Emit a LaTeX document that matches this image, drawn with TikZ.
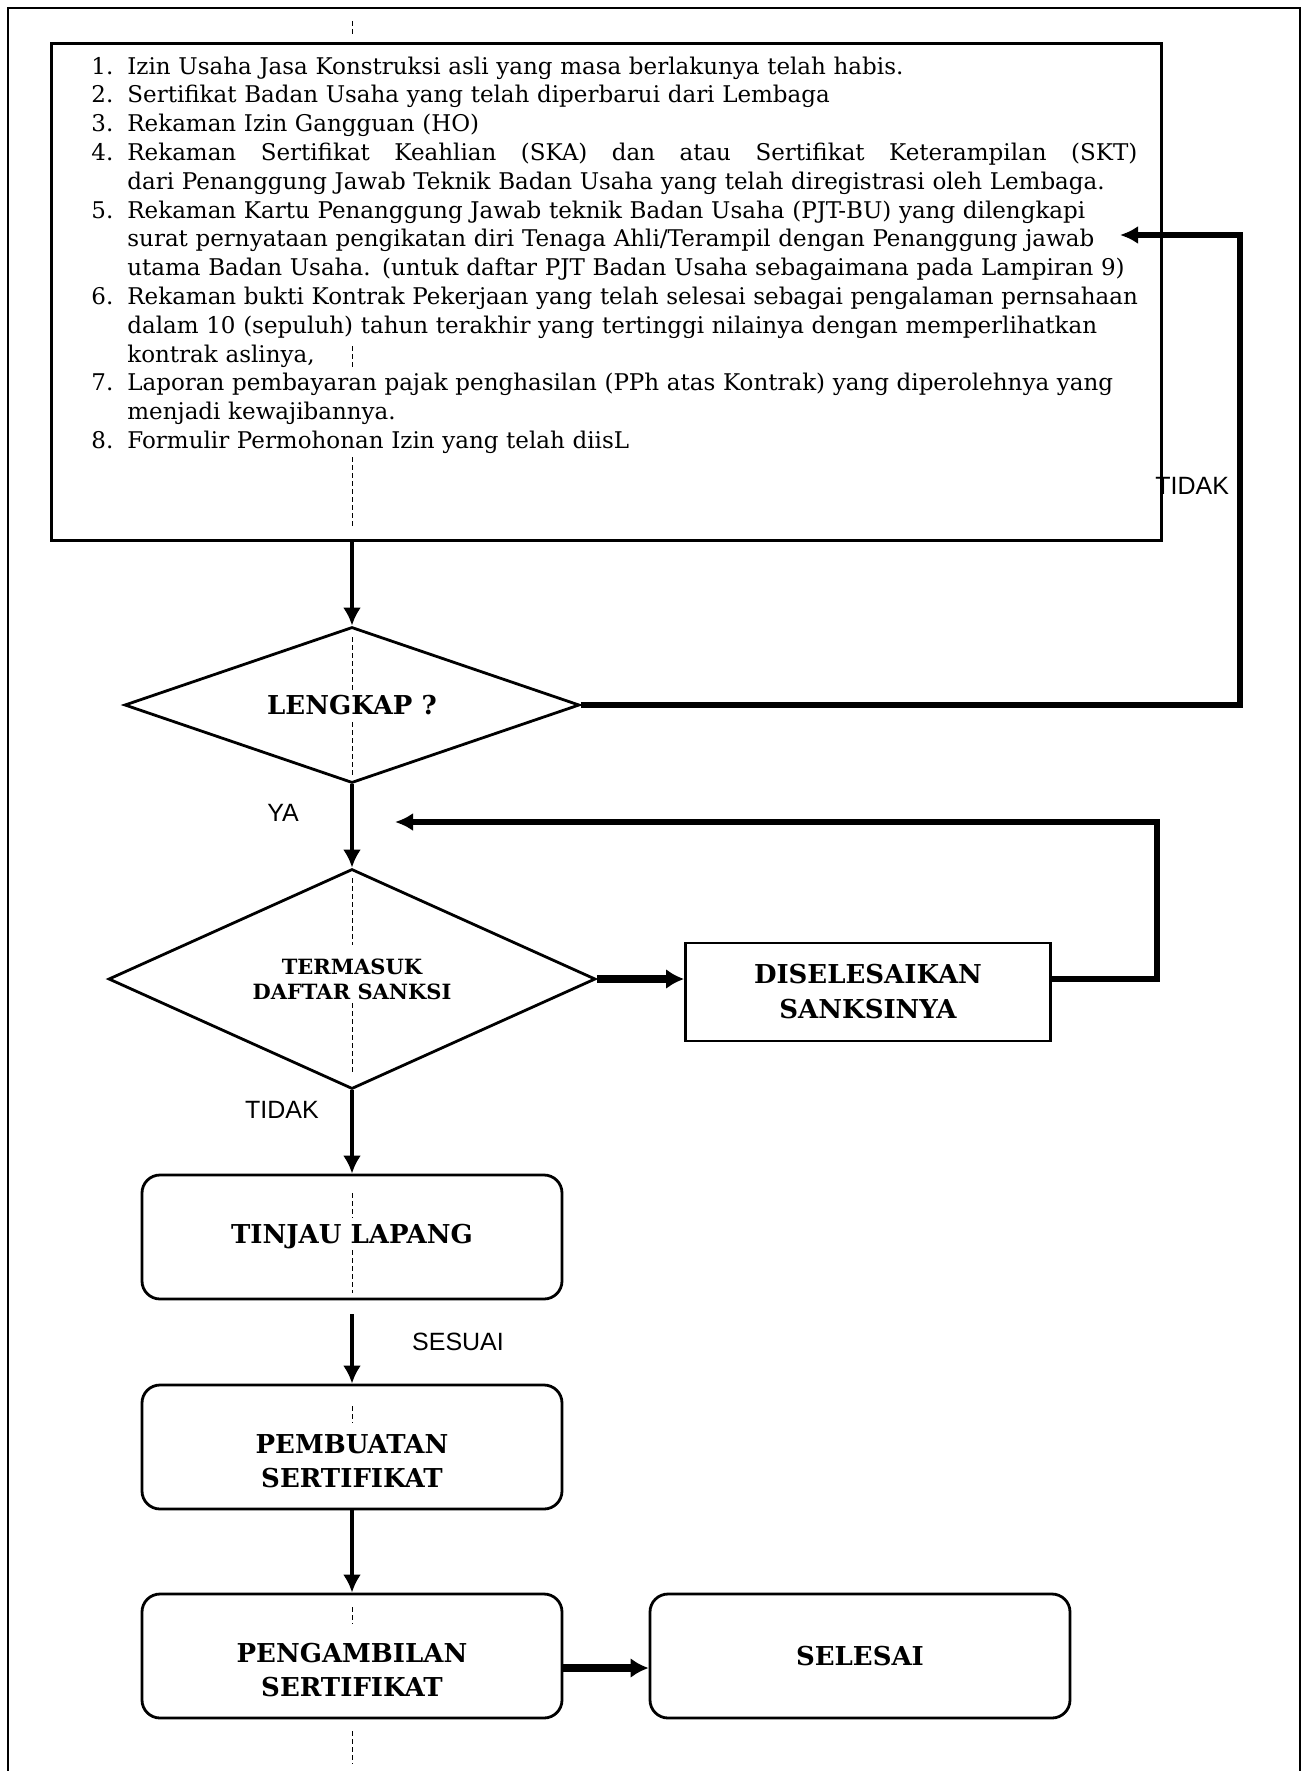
\documentclass[tikz,border=0pt]{standalone}
\usepackage{fontspec}
\setmainfont{DejaVu Serif}
\newfontfamily\labelsans{Liberation Sans}
\usetikzlibrary{shapes.geometric,arrows.meta}

\newcommand\nomor[1]{\par\noindent\hangindent=30pt\hangafter=1\hspace*{12pt}\makebox[18pt][l]{#1}}

\begin{document}
\begin{tikzpicture}[x=0.5pt,y=-0.5pt,
    proc/.style = {draw, line width=1.4pt, rounded corners=9pt, minimum width=210pt, minimum height=62pt, align=center, font=\fontsize{13}{17}\selectfont\bfseries},
    side/.style = {draw, line width=1.4pt, minimum width=182.5pt, minimum height=49pt, align=center, font=\fontsize{13}{17.5}\selectfont\bfseries},
    decision/.style = {draw, diamond, line width=1.4pt, inner sep=0pt, align=center},
    lbl/.style = {inner sep=0pt, font=\labelsans\fontsize{12.5}{14}\selectfont},
    arr/.style = {line width=2.2pt, -{Latex[length=9pt,width=9pt]}},
    fatarr/.style = {line width=4pt, -{Latex[length=9pt,width=10pt]}},
    backarr/.style = {line width=2.6pt, -{Latex[length=9pt,width=9pt]}},
    guide/.style = {line width=0.4pt, dash pattern=on 2.5pt off 1.5pt}]
    \useasboundingbox (0,0) rectangle (1304,1771);
    \draw[line width=1.2pt] (8,1771) -- (8,8) -- (1300,8) -- (1300,1771);

    \node[draw, line width=1.4pt, anchor=north west, inner xsep=8pt, inner ysep=1pt, text width=539pt, font=\fontsize{11.5}{14.4}\selectfont] (syarat) at (50,42) {%
        \nomor{1.}Izin Usaha Jasa Konstruksi asli yang masa berlakunya telah habis.
        \nomor{2.}Sertifikat Badan Usaha yang telah diperbarui dari Lembaga
        \nomor{3.}Rekaman Izin Gangguan (HO)
        \nomor{4.}\hbox to 505pt{Rekaman\hfill Sertifikat\hfill Keahlian\hfill (SKA)\hfill dan\hfill atau\hfill Sertifikat\hfill Keterampilan\hfill (SKT)}\newline dari Penanggung Jawab Teknik Badan Usaha yang telah diregistrasi oleh Lembaga.
        \nomor{5.}Rekaman Kartu Penanggung Jawab teknik Badan Usaha (PJT-BU) yang dilengkapi\newline surat pernyataan pengikatan diri Tenaga Ahli/Terampil dengan Penanggung jawab\newline utama Badan Usaha. (untuk daftar PJT Badan Usaha sebagaimana pada Lampiran 9)
        \nomor{6.}Rekaman bukti Kontrak Pekerjaan yang telah selesai sebagai pengalaman pernsahaan\newline dalam 10 (sepuluh) tahun terakhir yang tertinggi nilainya dengan memperlihatkan\newline kontrak aslinya,
        \nomor{7.}Laporan pembayaran pajak penghasilan (PPh atas Kontrak) yang diperolehnya yang\newline menjadi kewajibannya.
        \nomor{8.}Formulir Permohonan Izin yang telah diisL
        \par\kern42.5pt};

    \node[decision, minimum width=227.5pt, minimum height=78pt, aspect=2.9, font=\fontsize{13}{16}\selectfont\bfseries] (d1) at (352,705) {LENGKAP ?};
    \node[decision, minimum width=243.5pt, minimum height=110pt, aspect=2.2, font=\fontsize{10.5}{12.5}\selectfont\bfseries] (d2) [below of=d1, node distance=137pt] {TERMASUK\\DAFTAR SANKSI};
    \node[side] (dis) [right of=d2, node distance=258pt, yshift=-6.5pt] {DISELESAIKAN\\SANKSINYA};
    \node[proc] (tinjau) [below of=d2, node distance=129pt] {TINJAU LAPANG};
    \node[proc] (pemb) [below of=tinjau, node distance=105pt] {\rule{0pt}{24pt}PEMBUATAN\\SERTIFIKAT};
    \node[proc] (peng) [below of=pemb, node distance=104.5pt] {\rule{0pt}{24pt}PENGAMBILAN\\SERTIFIKAT};
    \node[proc] (sel) [right of=peng, node distance=254pt] {SELESAI};

    \node[lbl, anchor=west] (tidak1) at (1155,486) {TIDAK};
    \node[lbl] (ya) at (283,813) {YA};
    \node[lbl] (tidak2) at (282,1110) {TIDAK};
    \node[lbl] (sesuai) at (458,1342) {SESUAI};

    \coordinate (kanan) at (1240,235);
    \coordinate (masuk) at (1120,235);
    \coordinate (balik) at (1157,822);
    \coordinate (ujung) at (395,822);

    \draw[arr] (syarat.south -| d1.north) -- (d1.north);
    \draw[backarr] (d1.east) -| (kanan) -- (masuk);
    \draw[arr] (d1.south) -- (d2.north);
    \draw[fatarr] (d2.east) -- (d2.east -| dis.west);
    \draw[backarr] (d2.east -| dis.east) -| (balik) -- (ujung);
    \draw[arr] (d2.south) -- (tinjau.north);
    \draw[arr] ([yshift=-7pt]tinjau.south) -- (pemb.north);
    \draw[arr] (pemb.south) -- (peng.north);
    \draw[fatarr] ([yshift=-6pt]peng.east) -- ([yshift=-6pt]peng.east -| sel.west);

    \foreach \a/\b in {21/34, 346/367, 457/528, 637/690, 722/775, 878/945, 1003/1074, 1193/1218, 1250/1293, 1406/1423, 1607/1624, 1731/1764}
        \draw[guide] (352,\a) -- (352,\b);
\end{tikzpicture}
\end{document}
